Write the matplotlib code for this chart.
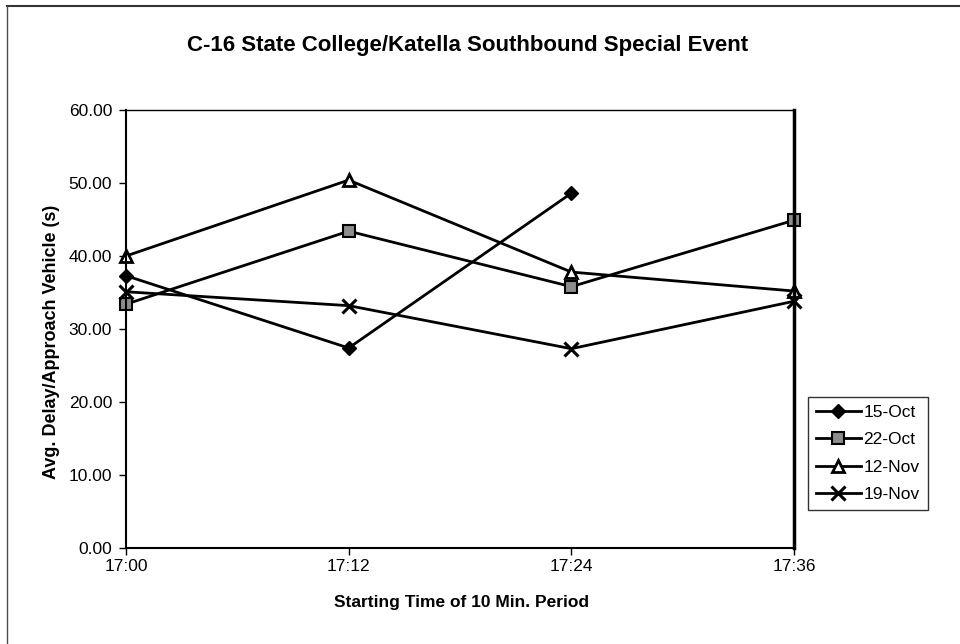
import numpy as np
from matplotlib import pyplot as plt
from matplotlib.lines import Line2D

plt.rcParams['font.family'] = ['Liberation Sans', 'DejaVu Sans']

times = ['17:00', '17:12', '17:24', '17:36']
oct15 = [37.3, 27.4, 48.6, np.nan]
oct22 = [33.4, 43.4, 35.8, 44.9]
nov12 = [40.0, 50.4, 37.8, 35.2]
nov19 = [35.1, 33.2, 27.3, 33.8]
yticks = [0, 10, 20, 30, 40, 50, 60]

fig = plt.figure(figsize=(9.6, 6.44), dpi=100)
ax = fig.add_axes([126 / 960, 1 - 548 / 644, 668 / 960, 438 / 644])

x = np.arange(len(times))
lw = 2.0
ax.plot(x, oct15, color='black', lw=lw, marker='D', ms=7, mfc='black', mec='black', label='15-Oct', clip_on=False)
ax.plot(x, oct22, color='black', lw=lw, marker='s', ms=8, mfc='0.55', mec='black', mew=1.5, label='22-Oct', clip_on=False)
ax.plot(x, nov12, color='black', lw=lw, marker='^', ms=9, mfc='white', mec='black', mew=2, label='12-Nov', clip_on=False)
ax.plot(x, nov19, color='black', lw=lw, marker='x', ms=10, mec='black', mew=2.2, label='19-Nov', clip_on=False)

ax.set_xlim(0, 3)
ax.set_ylim(0, 60)
ax.set_xticks(x)
ax.set_xticklabels(times, fontsize=12.5)
ax.set_yticks(yticks)
ax.set_yticklabels(['%.2f' % v for v in yticks], fontsize=12.5)
ax.tick_params(direction='out', length=5, width=1, color='black', pad=5)
ax.tick_params(axis='x', pad=3)
for s in ax.spines.values():
    s.set_linewidth(1.5)
ax.spines['top'].set_linewidth(1.0)
ax.spines['right'].set_linewidth(2.5)

ax.set_xlabel('Starting Time of 10 Min. Period', fontsize=12.5, fontweight='bold')
ax.xaxis.set_label_coords(462 / 960, 1 - 602 / 644, transform=fig.transFigure)
ax.set_ylabel('Avg. Delay/Approach Vehicle (s)', fontsize=13, fontweight='bold')
ax.yaxis.set_label_coords(52 / 960, 1 - 342 / 644, transform=fig.transFigure)
ax.xaxis.label.set_va('center')
ax.yaxis.label.set_va('center')

fig.text(468 / 960, 1 - 45 / 644, 'C-16 State College/Katella Southbound Special Event',
         ha='center', va='center', fontsize=16, fontweight='bold')

leg = fig.legend(loc='upper left', bbox_to_anchor=(808 / 960, 1 - 397 / 644), fontsize=12.5,
                 frameon=True, fancybox=False, edgecolor='black', handlelength=2.6,
                 handletextpad=0.15, borderpad=0.45, labelspacing=0.7, borderaxespad=0)
leg.get_frame().set_linewidth(1.0)

# outer chart frame (top and left edges visible in the scan)
fig.add_artist(Line2D([7 / 960, 1], [1 - 6 / 644, 1 - 6 / 644], color='0.2', lw=1.5, transform=fig.transFigure))
fig.add_artist(Line2D([7 / 960, 7 / 960], [0, 1 - 6 / 644], color='0.3', lw=1.0, transform=fig.transFigure))

fig.savefig('out.png', dpi=100)
